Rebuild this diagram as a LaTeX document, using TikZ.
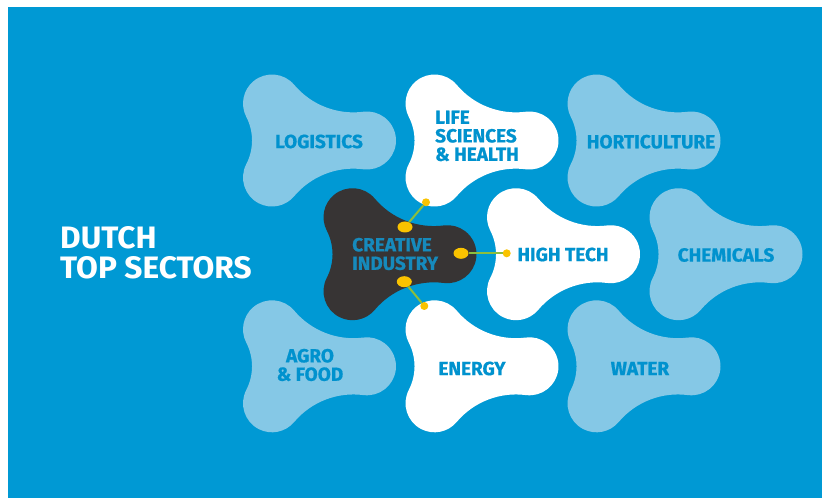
\documentclass[tikz,border=0pt]{standalone}
\usepackage{fontspec}
\setmainfont{Fira Sans}
\newfontfamily\labelfont[FakeBold=0.8]{Fira Sans}
\newfontfamily\titlefont[FakeStretch=1.02]{Fira Sans}
\usetikzlibrary{shapes.geometric}
\definecolor{bgblue}{RGB}{0,153,212}
\definecolor{lightblob}{RGB}{133,200,230}
\definecolor{darkblob}{RGB}{55,52,52}
\definecolor{labelblue}{RGB}{0,146,206}
\definecolor{creativeblue}{RGB}{22,138,188}
\definecolor{dotyellow}{RGB}{250,195,0}
\definecolor{linegreen}{RGB}{140,190,60}
\tikzset{
  x=1pt, y=1pt,
  pics/blob/.style={code={
    \path[pic actions] (43.29,-28.76)
      arc[start angle=-97.34, end angle=97.34, radius=29pt]
      arc[start angle=277.34, end angle=220.1, radius=77.4pt]
      arc[start angle=40.1, end angle=207.33, radius=29pt]
      arc[start angle=27.33, end angle=-27.33, radius=51.6pt]
      arc[start angle=152.67, end angle=319.9, radius=29pt]
      arc[start angle=139.9, end angle=82.66, radius=77.4pt]
      -- cycle;
  }},
  lightfill/.style={fill=lightblob},
  whitefill/.style={fill=white},
  darkfill/.style={fill=darkblob},
  sector/.style={text=labelblue, inner sep=0pt, font=\labelfont\bfseries\fontsize{19}{18.5}\selectfont},
  title/.style={text=white, inner sep=0pt, anchor=base west, font=\titlefont\bfseries\fontsize{31}{30}\selectfont},
  bigdot/.style={ellipse, fill=dotyellow, minimum width=15pt, minimum height=11pt, inner sep=0pt},
  smalldot/.style={circle, fill=dotyellow, minimum size=8pt, inner sep=0pt},
  conn/.style={draw=linegreen, line width=2pt}
}
\begin{document}
\begin{tikzpicture}
\useasboundingbox (0,0) rectangle (822,498);
\fill[white] (0,0) rectangle (822,498);
\fill[bgblue] (8,0) rectangle (822,491);
% blobs
\pic[lightfill] at (320,357.5) {blob};
\pic[whitefill] at (482.5,357.5) {blob};
\pic[lightfill] at (644.5,357.5) {blob};
\pic[darkfill] at (400.5,243.8) {blob};
\pic[whitefill] at (564,243.8) {blob};
\pic[lightfill] at (726.5,243.8) {blob};
\pic[lightfill] at (320,131.7) {blob};
\pic[whitefill] at (482.5,131.7) {blob};
\pic[lightfill] at (644.5,131.7) {blob};
% title
\node[title] (t1) at (60,249.7) {DUTCH};
\node[title] (t2) at (60,219.7) {TOP SECTORS};
% labels
\node[sector] (logistics) at (319,356.5) {LOGISTICS};
\node[sector, anchor=west, align=left] (life) at (435,362) {LIFE\\SCIENCES\\\&~HEALTH};
\node[sector] (horti) at (651,356.3) {HORTICULTURE};
\node[sector, anchor=west, align=left, text=creativeblue] (creative) at (352,244) {CREATIVE\\INDUSTRY};
\node[sector] (hightech) at (563,243.5) {HIGH TECH};
\node[sector] (chem) at (726,243) {CHEMICALS};
\node[sector, align=center] (agro) at (310,133) {AGRO\\\&~FOOD};
\node[sector] (energy) at (472,129.5) {ENERGY};
\node[sector] (water) at (640,129.5) {WATER};
% connectors
\node[bigdot] (d1) at (405,271) {};
\node[smalldot] (s1) at (426,295.7) {};
\node[bigdot] (d2) at (461,244.7) {};
\node[smalldot] (s2) at (506.7,244.7) {};
\node[bigdot] (d3) at (404.3,216.3) {};
\node[smalldot] (s3) at (424.3,192) {};
\draw[conn] (d1) -- (s1);
\draw[conn] (d2) -- (s2);
\draw[conn] (d3) -- (s3);
\end{tikzpicture}
\end{document}
